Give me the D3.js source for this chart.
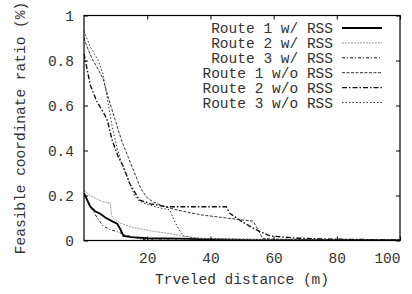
<!DOCTYPE html>
<html>
<head>
<meta charset="utf-8">
<script src="https://cdn.jsdelivr.net/npm/d3@7"></script>
<style>
  html, body { margin: 0; padding: 0; background: #fff; }
  svg text { font-family: "Liberation Mono", "DejaVu Sans Mono", monospace; font-size: 14.5px; fill: #333; }
</style>
</head>
<body>
<svg id="chart" width="412" height="294"></svg>
<script>
// ── data: [distance (m), ratio] ──
const r1Rss = [[0,0.21],[1,0.18],[2,0.15],[3.5,0.13],[5,0.12],[7,0.10],[9,0.085],[10.5,0.075],[11.5,0.05],[12.5,0.02],[15,0.015],[20,0.01],[30,0.008],[40,0.005],[50,0.003],[60,0.002],[100,0.001]];
const r2Rss = [[0,0.222],[2,0.2],[4,0.185],[6,0.172],[8.3,0.166],[8.7,0.11],[10,0.09],[11.5,0.077],[15.5,0.058],[21,0.043],[26,0.033],[32.5,0.018],[37,0.01],[45,0.007],[60,0.004],[80,0.002],[100,0.001]];
const r3Rss = [[0,0.21],[2,0.15],[4,0.105],[6,0.065],[8,0.05],[10.3,0.04],[13,0.025],[15.5,0.015],[19,0.004],[30,0.002],[100,0.001]];
const r1NoRss = [[0,0.90],[1,0.86],[2.5,0.81],[4.5,0.76],[6,0.72],[8,0.62],[10,0.53],[12,0.44],[14,0.37],[16,0.30],[18,0.23],[20,0.19],[22,0.17],[26,0.148],[30,0.134],[37,0.114],[45,0.10],[53.5,0.086],[55,0.05],[56.5,0.01],[60,0.006],[80,0.004],[100,0.002]];
const r2NoRss = [[0,0.83],[1,0.76],[2,0.69],[4,0.62],[6.5,0.56],[7.5,0.53],[8.8,0.45],[10.9,0.37],[12.4,0.33],[14.6,0.25],[17.5,0.18],[21,0.163],[26,0.15],[45,0.15],[46.2,0.12],[50.4,0.08],[54.6,0.047],[58.9,0.02],[68,0.01],[79,0.006],[95,0.003],[100,0.002]];
const r3NoRss = [[0,0.93],[2,0.86],[4.5,0.80],[6,0.74],[7.5,0.62],[9,0.50],[10.5,0.41],[12,0.34],[14,0.27],[16,0.20],[17.5,0.175],[20,0.16],[24,0.145],[27.2,0.136],[28.5,0.09],[30,0.05],[31.5,0.02],[35,0.01],[45,0.007],[60,0.004],[80,0.003],[100,0.001]];

const xTicks = [20, 40, 60, 80, 100];
const yTicks = [0, 0.2, 0.4, 0.6, 0.8, 1];

const series = [
  { name: "Route 1 w/ RSS",  data: r1Rss,   color: "#000", width: 1.8, dash: null },
  { name: "Route 2 w/ RSS",  data: r2Rss,   color: "#999", width: 1,   dash: "2,1" },
  { name: "Route 3 w/ RSS",  data: r3Rss,   color: "#222", width: 1,   dash: "3,2,1,2" },
  { name: "Route 1 w/o RSS", data: r1NoRss, color: "#333", width: 1,   dash: "3,1.5" },
  { name: "Route 2 w/o RSS", data: r2NoRss, color: "#111", width: 1.4, dash: "5,2,1.5,2" },
  { name: "Route 3 w/o RSS", data: r3NoRss, color: "#333", width: 1,   dash: "1.5,2" }
];

const svg = d3.select("#chart");
const L = 84, R = 400, T = 15.5, B = 240.5;

const x = d3.scaleLinear().domain([0, 100]).range([L, R]);
const y = d3.scaleLinear().domain([0, 1]).range([B, T]);

// curves (clipped to the frame)
svg.append("clipPath").attr("id", "clip")
  .append("rect").attr("x", L).attr("y", T).attr("width", R - L).attr("height", B - T);

const line = d3.line().x(d => x(d[0])).y(d => y(d[1]));
const plot = svg.append("g").attr("clip-path", "url(#clip)");
series.forEach(s => {
  plot.append("path").datum(s.data)
    .attr("d", line).attr("fill", "none")
    .attr("stroke", s.color).attr("stroke-width", s.width)
    .attr("stroke-dasharray", s.dash);
});

// inward ticks on all four sides
const tk = 4;
const axB = svg.append("g").attr("transform", `translate(0,${B})`)
  .call(d3.axisBottom(x).tickValues(xTicks).tickSize(-tk).tickPadding(12).tickFormat(d3.format("d")));
const axT = svg.append("g").attr("transform", `translate(0,${T})`)
  .call(d3.axisTop(x).tickValues(xTicks).tickSize(-tk).tickFormat(""));
const axL = svg.append("g").attr("transform", `translate(${L},0)`)
  .call(d3.axisLeft(y).tickValues(yTicks).tickSize(-tk).tickPadding(10).tickFormat(d => d === 0 || d === 1 ? d3.format("d")(d) : d3.format(".1f")(d)));
const axR = svg.append("g").attr("transform", `translate(${R},0)`)
  .call(d3.axisRight(y).tickValues(yTicks).tickSize(-tk).tickFormat(""));
[axB, axT, axL, axR].forEach(a => {
  a.select(".domain").remove();
  a.selectAll("line").attr("stroke", "#000");
  a.selectAll("text").attr("font-size", null).attr("font-family", null).attr("fill", null);
});
// last x label sits flush with the right edge, as in the original
axB.selectAll(".tick text").filter(d => d === 100).attr("text-anchor", "end");

// frame
svg.append("rect").attr("x", L).attr("y", T).attr("width", R - L).attr("height", B - T)
  .attr("fill", "none").attr("stroke", "#000").attr("stroke-width", 1.2);

// legend
series.forEach((s, i) => {
  const ly = 28 + i * 14.9;
  svg.append("text").attr("x", 333).attr("y", ly + 5).attr("text-anchor", "end").text(s.name);
  svg.append("line").attr("x1", 342).attr("x2", 382).attr("y1", ly).attr("y2", ly)
    .attr("stroke", s.color).attr("stroke-width", s.width).attr("stroke-dasharray", s.dash);
});

// axis titles
svg.append("text").attr("x", (L + R) / 2).attr("y", 284).attr("text-anchor", "middle")
  .text("Trveled distance (m)");
svg.append("text").attr("transform", `translate(25,${(T + B) / 2}) rotate(-90)`)
  .attr("text-anchor", "middle").text("Feasible coordinate ratio (%)");
</script>
</body>
</html>
